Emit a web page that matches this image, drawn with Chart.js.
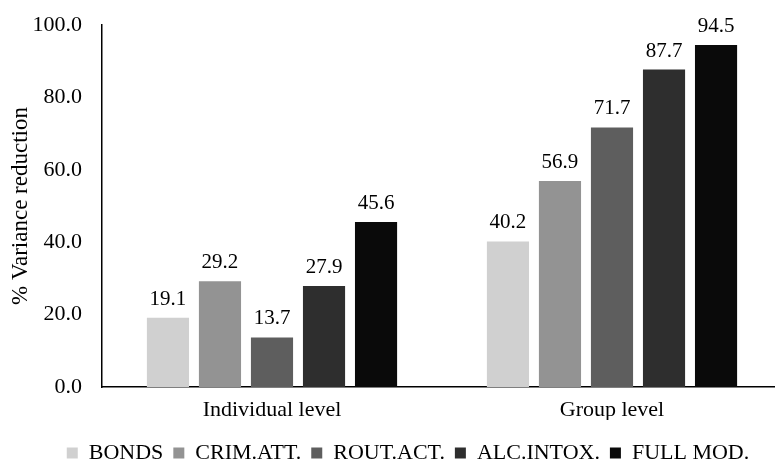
<!DOCTYPE html>
<html>
<head>
<meta charset="utf-8">
<script src="https://cdn.jsdelivr.net/npm/chart.js@4/dist/chart.umd.min.js"></script>
<style>
  html, body { margin: 0; padding: 0; background: #fff; overflow: hidden; }
  #wrap { width: 775px; height: 462px; overflow: hidden; }
  #box { width: 790px; height: 462px; }
</style>
</head>
<body>
<div id="wrap"><div id="box"><canvas id="myCanvas"></canvas></div></div>
<script>
const categories = ["Individual level", "Group level"];
const seriesNames = ["BONDS", "CRIM.ATT.", "ROUT.ACT.", "ALC.INTOX.", "FULL MOD."];
const seriesColors = ["#d0d0d0", "#939393", "#5e5e5e", "#2e2e2e", "#0a0a0a"];
const bonds = [19.1, 40.2];
const crimAtt = [29.2, 56.9];
const routAct = [13.7, 71.7];
const alcIntox = [27.9, 87.7];
const fullMod = [45.6, 94.5];
const seriesValues = [bonds, crimAtt, routAct, alcIntox, fullMod];

const font = "'Liberation Serif', 'Times New Roman', serif";

// numbers above the bars
const valueLabels = {
  id: "valueLabels",
  afterDatasetsDraw(chart) {
    const ctx = chart.ctx;
    ctx.save();
    ctx.font = "21px " + font;
    ctx.fillStyle = "#000";
    ctx.textAlign = "center";
    ctx.textBaseline = "bottom";
    chart.data.datasets.forEach((ds, i) => {
      chart.getDatasetMeta(i).data.forEach((bar, j) => {
        ctx.fillText(ds.data[j].toFixed(1), bar.x, bar.y - 8);
      });
    });
    ctx.restore();
  }
};

// nudge the legend a bit right and down, like the original
const legendNudge = {
  id: "legendNudge",
  afterLayout(chart) {
    const lg = chart.legend;
    lg.left += 34;
    lg.top += 12;
    lg.bottom += 12;
  }
};

new Chart(document.getElementById("myCanvas"), {
  type: "bar",
  data: {
    labels: categories,
    datasets: seriesNames.map((name, i) => ({
      label: name,
      data: seriesValues[i],
      backgroundColor: seriesColors[i],
      borderWidth: 0,
      categoryPercentage: 0.765,
      barPercentage: 0.81
    }))
  },
  options: {
    responsive: true,
    maintainAspectRatio: false,
    animation: false,
    layout: { padding: { top: 25, right: 8, bottom: 0, left: 0 } },
    plugins: {
      legend: {
        position: "bottom",
        labels: {
          color: "#000",
          font: { family: font, size: 22 },
          boxWidth: 11,
          boxHeight: 11,
          padding: 10
        }
      },
      tooltip: { enabled: false }
    },
    scales: {
      x: {
        grid: { display: false, drawTicks: false },
        border: { display: true, color: "#000", width: 1.5 },
        ticks: { color: "#000", font: { family: font, size: 22 }, padding: 10 },
        afterFit: (scale) => { scale.height = 33; }
      },
      y: {
        min: 0,
        max: 100,
        grid: { display: false, drawTicks: false },
        border: { display: true, color: "#000", width: 1.5 },
        ticks: {
          stepSize: 20,
          color: "#000",
          font: { family: font, size: 22 },
          padding: 20,
          callback: (v) => v.toFixed(1)
        },
        title: {
          display: true,
          text: "% Variance reduction",
          color: "#000",
          font: { family: font, size: 23 },
          padding: { top: 7, bottom: 0 }
        },
        afterFit: (scale) => {
          scale.width = 102;
          scale.paddingTop = 0;
        }
      }
    }
  },
  plugins: [valueLabels, legendNudge]
});
</script>
</body>
</html>
